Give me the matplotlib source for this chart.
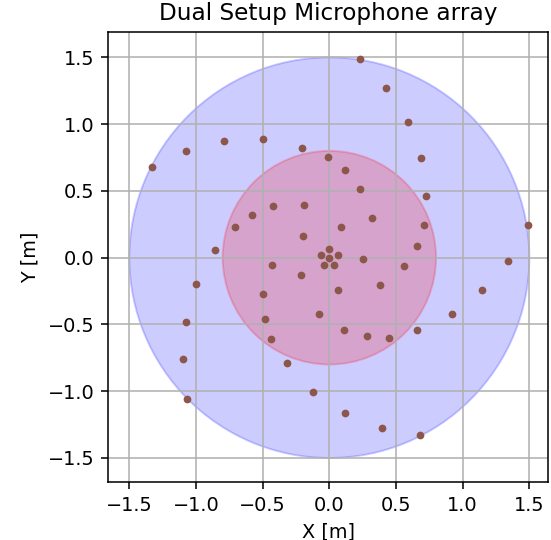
import numpy as np
import matplotlib
matplotlib.use('Agg')
import matplotlib.pyplot as plt
from matplotlib.patches import Circle

# 마이크 위치 (x, y) [m]
mic_x = [0.0, 0.0, 0.062, 0.038, -0.038, -0.062,
         -1.33, -1.075, -0.79, -0.495, -0.207, -0.01, -0.19, -0.42, -0.58, -0.71,
         -0.20, -0.857, 0.23, 0.428, 0.59, 0.69, 0.12, 0.23, 0.723, 0.318,
         0.085, 0.71, 0.658, 1.488, 0.25, 1.338, -0.428, -0.21, -1.0, -0.495,
         -0.077, -0.485, -1.075, -0.44, -0.32, -1.095, -0.122, -1.065, 0.558, 0.065,
         0.383, 1.148, 0.92, 0.11, 0.285, 0.45, 0.655, 0.12, 0.393, 0.678]
mic_y = [0.0, 0.065, 0.02, -0.053, -0.053, 0.02,
         0.68, 0.80, 0.876, 0.889, 0.824, 0.757, 0.395, 0.387, 0.32, 0.232,
         0.165, 0.055, 1.488, 1.271, 1.019, 0.747, 0.66, 0.517, 0.462, 0.297,
         0.232, 0.243, 0.09, 0.243, -0.008, -0.022, -0.052, -0.128, -0.195, -0.27,
         -0.42, -0.457, -0.48, -0.61, -0.786, -0.761, -1.004, -1.058, -0.062, -0.24,
         -0.205, -0.24, -0.42, -0.54, -0.589, -0.6, -0.544, -1.166, -1.276, -1.33]

# 두 배열 반지름
r_outer = 1.5
r_inner = 0.8

dpi = 139
fig = plt.figure(figsize=(551 / dpi, 540 / dpi), dpi=dpi)
ax = fig.add_axes([0.196, 0.1074, 0.7986, 0.8333])

ax.add_patch(Circle((0, 0), r_outer, color='blue', alpha=0.2))
ax.add_patch(Circle((0, 0), r_inner, color='red', alpha=0.2))
ax.scatter(mic_x, mic_y, s=9, color='tab:brown', zorder=3)

ax.set_xlim(-1.66, 1.64)
ax.set_ylim(-1.68, 1.69)
ax.set_xticks(np.arange(-1.5, 1.51, 0.5))
ax.set_yticks(np.arange(-1.5, 1.51, 0.5))
ax.grid(True)
ax.set_xlabel('X [m]')
ax.set_ylabel('Y [m]')
ax.set_title('Dual Setup Microphone array')

fig.savefig('out.png', dpi=dpi)
